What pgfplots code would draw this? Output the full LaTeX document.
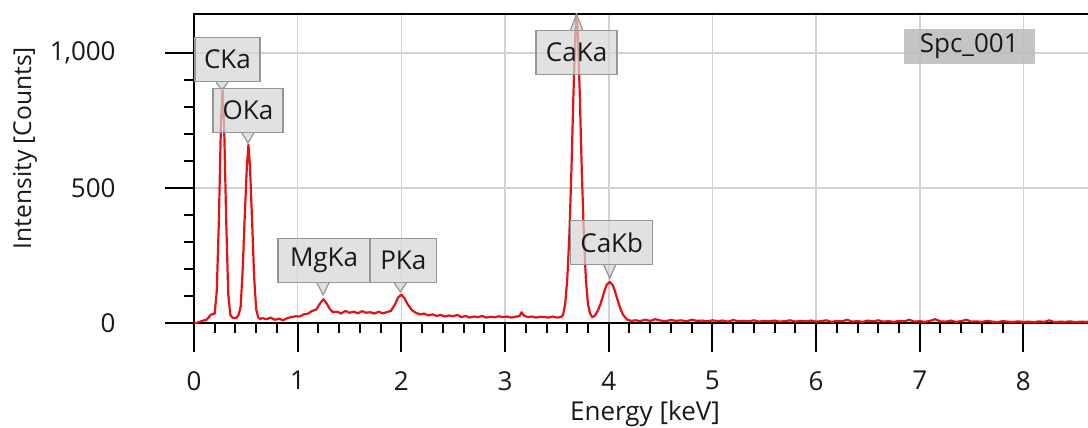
\documentclass[border=0pt]{standalone}
\usepackage{fontspec}
\setmainfont{Open Sans}
\usepackage{pgfplots}
\pgfplotsset{compat=1.18}
\definecolor{spec}{RGB}{228,18,18}
\definecolor{gridc}{RGB}{210,210,210}
\definecolor{boxc}{RGB}{214,214,214}
\definecolor{boxb}{RGB}{150,150,150}
\definecolor{spcc}{RGB}{190,190,190}
\begin{document}
\begin{tikzpicture}
\begin{axis}[
  scale only axis, width=451bp, height=154.5bp,
  xmin=0, xmax=8.7, ymin=0, ymax=1145,
  axis line style={line width=1bp, black},
  xtick={0,1,2,3,4,5,6,7,8}, minor x tick num=4,
  ytick={0,500,1000}, yticklabels={0,500,{1,000}}, minor y tick num=4,
  xtick pos=bottom, ytick pos=left,
  tick align=outside,
  major tick length=14.5bp, minor tick length=5bp,
  every tick/.style={black, line width=1bp},
  grid=major, major grid style={line width=0.8bp, gridc},
  /pgf/number format/assume math mode=true,
  ticklabel style={font=\fontsize{13bp}{15bp}\selectfont, inner sep=0pt, text=black!90},
  xticklabel style={anchor=north, yshift=-9.5bp},
  yticklabel style={anchor=east, xshift=-24.5bp},
  xlabel={Energy [keV]}, ylabel={Intensity [Counts]},
  xlabel style={at={(axis description cs:0.5,-0.3165)}, anchor=base, font=\fontsize{13bp}{15bp}\selectfont, text=black!90},
  ylabel style={at={(axis description cs:-0.1874,0.566)}, anchor=center, font=\fontsize{12.3bp}{15bp}\selectfont, text=black!90},
  clip=true,
]
\addplot[spec, line width=1.1bp, line join=round] coordinates {
(0.00,0) (0.02,0) (0.04,2) (0.06,5) (0.08,8) (0.10,10) (0.12,12) (0.14,20) (0.16,30) (0.18,33)
(0.20,35) (0.22,120) (0.24,380) (0.26,740) (0.275,870) (0.29,740) (0.31,390) (0.33,110) (0.35,30)
(0.37,20) (0.39,18) (0.41,20) (0.43,30)
(0.45,60) (0.47,200) (0.49,400) (0.51,580) (0.525,660) (0.54,580) (0.56,380) (0.58,170) (0.60,50)
(0.62,20) (0.64,15) (0.66,18) (0.70,14) (0.74,20) (0.78,12) (0.82,16) (0.86,10) (0.90,18) (0.94,22)
(0.98,25) (1.02,24) (1.06,32) (1.10,35) (1.14,45) (1.18,50) (1.22,75) (1.25,88) (1.28,72) (1.31,52)
(1.34,40) (1.38,42) (1.42,35) (1.46,45) (1.50,38) (1.54,42) (1.58,36) (1.62,44) (1.66,38) (1.70,40)
(1.74,35) (1.78,42) (1.82,36) (1.86,40) (1.90,45) (1.94,70) (1.97,95) (2.00,105) (2.03,92) (2.06,70)
(2.10,48) (2.14,38) (2.18,32) (2.22,35) (2.26,28) (2.30,32) (2.34,26) (2.38,30) (2.42,24) (2.46,28)
(2.50,25) (2.54,30) (2.58,22) (2.62,26) (2.66,20) (2.70,24) (2.74,22) (2.78,26) (2.82,20) (2.86,23)
(2.90,21) (2.94,25) (2.98,22) (3.02,24) (3.06,20) (3.10,23) (3.14,26) (3.16,40) (3.18,28) (3.22,22)
(3.26,24) (3.30,20) (3.34,23) (3.38,22) (3.42,20) (3.46,24) (3.50,20) (3.54,22)
(3.56,30) (3.58,70) (3.60,160) (3.62,320) (3.64,560) (3.66,850) (3.68,1090) (3.69,1145) (3.70,1090)
(3.72,860) (3.74,570) (3.76,330) (3.78,160) (3.80,70) (3.82,35) (3.84,22) (3.86,25)
(3.88,35) (3.90,50) (3.92,70) (3.94,95) (3.96,120) (3.98,142) (4.01,152) (4.04,140) (4.06,118)
(4.08,92) (4.10,68) (4.12,45) (4.14,30) (4.16,20) (4.18,12) (4.22,8)
(4.26,10) (4.30,7) (4.35,12) (4.40,8) (4.45,14) (4.50,9) (4.55,7) (4.60,11) (4.65,8) (4.70,10)
(4.75,6) (4.80,12) (4.85,8) (4.90,9) (4.95,6) (5.00,10) (5.05,7) (5.10,9) (5.15,5) (5.20,11)
(5.25,7) (5.30,8) (5.35,6) (5.40,10) (5.45,5) (5.50,8) (5.55,6) (5.60,9) (5.65,5) (5.70,7)
(5.75,10) (5.80,5) (5.85,8) (5.90,6) (5.95,9) (6.00,5) (6.05,7) (6.10,10) (6.15,4) (6.20,8)
(6.25,6) (6.30,12) (6.35,5) (6.40,7) (6.45,4) (6.50,9) (6.55,6) (6.60,10) (6.65,5) (6.70,7)
(6.75,4) (6.80,8) (6.85,6) (6.90,12) (6.95,5) (7.00,7) (7.05,4) (7.10,8) (7.15,14) (7.20,6)
(7.25,5) (7.30,9) (7.35,4) (7.40,7) (7.45,12) (7.50,5) (7.55,6) (7.60,4) (7.65,8) (7.70,5)
(7.75,3) (7.80,7) (7.85,5) (7.90,4) (7.95,6) (8.00,4) (8.05,5) (8.10,3) (8.15,6) (8.20,4)
(8.25,10) (8.30,3) (8.35,5) (8.40,4) (8.45,6) (8.50,3) (8.55,5) (8.60,4) (8.65,6) (8.70,3)
};
% callouts
\tikzset{callout/.style={draw=boxb, line width=0.6bp, fill=boxc, fill opacity=0.72, text opacity=1,
  inner sep=0pt, minimum height=22bp, font=\fontsize{13bp}{15bp}\selectfont, text=black!90}}
\newcommand{\calldown}[6]{% tipx, tipy, H, dx, width, text
  \coordinate (t) at (axis cs:#1,#2);
  \node[callout, anchor=south, minimum width=#5bp] at ([xshift=#4bp, yshift=#3bp]t) {#6};
  \fill[boxc, fill opacity=0.72] (t) -- ++(-3bp,#3bp) -- ++(6bp,0) -- cycle;
  \draw[boxb, line width=0.6bp] ([xshift=-3bp, yshift=#3bp]t) -- (t) -- ([xshift=3bp, yshift=#3bp]t);
}
\calldown{0.27}{863}{4}{2.75}{32.5}{CKa}
\calldown{0.52}{667}{5}{0}{35}{OKa}
\calldown{1.245}{104}{6}{0.5}{46}{MgKa}
\calldown{1.99}{115}{4.5}{1.5}{33}{PKa}
\calldown{4.01}{167}{6.5}{1}{41}{CaKb}
\coordinate (t) at (axis cs:3.69,1145);
\node[callout, anchor=north, minimum width=40.5bp] at ([yshift=-8bp]t) {CaKa};
\fill[boxc, fill opacity=0.72] (t) -- ++(-3bp,-8bp) -- ++(6bp,0) -- cycle;
\draw[boxb, line width=0.6bp] ([xshift=-3bp, yshift=-8bp]t) -- (t) -- ([xshift=3bp, yshift=-8bp]t);
\node[fill=spcc, fill opacity=0.9, text opacity=1, inner sep=0pt, minimum width=65.5bp, minimum height=17.5bp,
  font=\fontsize{13bp}{15bp}\selectfont, text=black!90] at (axis cs:7.478,1024) {Spc\_001};
\end{axis}
\pgfresetboundingbox
\useasboundingbox (-97bp,-52.5bp) rectangle (447bp,161.5bp);
\end{tikzpicture}
\end{document}
